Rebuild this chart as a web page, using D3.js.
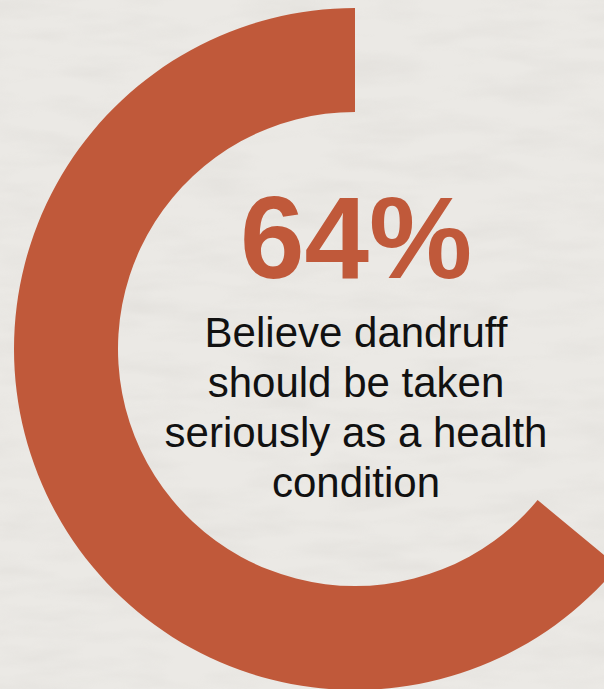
<!DOCTYPE html>
<html>
<head>
<meta charset="utf-8">
<script src="https://cdn.jsdelivr.net/npm/d3@7"></script>
<style>
  html, body { margin: 0; padding: 0; background: #eae8e4; }
  svg { display: block; }
</style>
</head>
<body>
<svg id="chart" width="604" height="689"></svg>
<script>
// Data
const percentValue = [64];
const percentLabel = ["64%"];
const captionLines = ["Believe dandruff", "should be taken", "seriously as a health", "condition"];

const W = 604, H = 689;
const svg = d3.select("#chart");

// textured background
const defs = svg.append("defs");
const f = defs.append("filter").attr("id", "tex").attr("x", 0).attr("y", 0).attr("width", "100%").attr("height", "100%");
f.append("feTurbulence").attr("type", "fractalNoise").attr("baseFrequency", "0.012 0.05").attr("numOctaves", 3).attr("seed", 4).attr("result", "n");
f.append("feColorMatrix").attr("in", "n").attr("type", "matrix")
  .attr("values", "0 0 0 0 0.55  0 0 0 0 0.53  0 0 0 0 0.50  0.9 0 0 0 -0.35");
svg.append("rect").attr("width", W).attr("height", H).attr("fill", "#ebe9e5");
svg.append("rect").attr("width", W).attr("height", H).attr("filter", "url(#tex)").attr("opacity", 0.35);

const cx = 355, cy = 349;
const outerR = 341, innerR = 237;

const angle = d3.scaleLinear().domain([0, 100]).range([0, -2 * Math.PI]);
const arc = d3.arc().innerRadius(innerR).outerRadius(outerR).startAngle(0).endAngle(d => angle(d));

const g = svg.append("g").attr("transform", `translate(${cx},${cy})`);
g.selectAll("path.val").data(percentValue).join("path")
  .attr("class", "val")
  .attr("d", arc)
  .attr("fill", "#c0593a");

const tx = 356;
svg.selectAll("text.pct").data(percentLabel).join("text")
  .attr("class", "pct")
  .attr("x", tx).attr("y", 278)
  .attr("text-anchor", "middle")
  .attr("font-family", "Liberation Sans, Arial, sans-serif")
  .attr("font-weight", "bold")
  .attr("font-size", 116)
  .attr("fill", "#c0593a")
  .text(d => d);

svg.selectAll("text.cap").data(captionLines).join("text")
  .attr("class", "cap")
  .attr("x", tx)
  .attr("y", (d, i) => 347 + i * 50)
  .attr("text-anchor", "middle")
  .attr("font-family", "Liberation Sans, Arial, sans-serif")
  .attr("font-size", 42)
  .attr("fill", "#111")
  .text(d => d);
</script>
</body>
</html>
